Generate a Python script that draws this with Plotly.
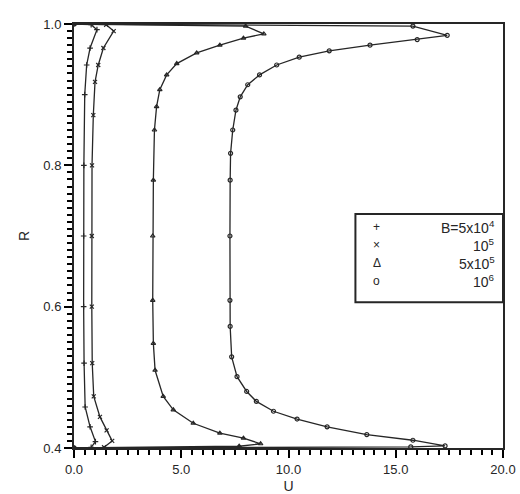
import plotly.graph_objects as go

# Series: radial coordinate R and velocity U for each B
labels = ["B=5x10<sup>4</sup>", "10<sup>5</sup>", "5x10<sup>5</sup>", "10<sup>6</sup>"]
legend_glyphs = ["+", "×", "Δ", "o"]
symbols = ["cross-thin-open", "x-thin-open", "triangle-up-open", "circle-open"]

R1 = [0.400, 0.401, 0.409, 0.430, 0.458, 0.52, 0.60, 0.70, 0.80, 0.90, 0.942, 0.966, 0.992, 0.999, 1.000]
U1 = [0.0, 0.8, 1.0, 0.75, 0.52, 0.47, 0.45, 0.45, 0.46, 0.50, 0.59, 0.75, 1.07, 0.8, 0.0]

R2 = [0.400, 0.401, 0.410, 0.425, 0.444, 0.473, 0.52, 0.60, 0.70, 0.80, 0.871, 0.918, 0.942, 0.966, 0.990, 0.999, 1.000]
U2 = [0.0, 1.4, 1.78, 1.52, 1.21, 0.92, 0.85, 0.83, 0.83, 0.84, 0.90, 0.98, 1.13, 1.37, 1.85, 1.5, 0.0]

R3 = [0.400, 0.4025, 0.406, 0.414, 0.421, 0.435, 0.454, 0.473, 0.510, 0.548, 0.609, 0.70, 0.779,
      0.850, 0.883, 0.907, 0.928, 0.944, 0.959, 0.970, 0.980, 0.986, 0.997, 1.000]
U3 = [0.0, 7.7, 8.7, 7.9, 6.8, 5.56, 4.63, 4.16, 3.78, 3.70, 3.67, 3.67, 3.70,
      3.75, 3.85, 4.0, 4.32, 4.79, 5.72, 6.8, 7.9, 8.85, 8.0, 0.0]

R4 = [0.400, 0.4015, 0.403, 0.411, 0.419, 0.430, 0.441, 0.452, 0.466, 0.480, 0.501, 0.529, 0.572,
      0.609, 0.70, 0.779, 0.817, 0.850, 0.878, 0.897, 0.914, 0.928, 0.942, 0.953, 0.962,
      0.970, 0.978, 0.984, 0.997, 1.000]
U4 = [0.0, 15.7, 17.3, 15.8, 13.65, 11.8, 10.4, 9.3, 8.5, 8.05, 7.6, 7.35, 7.28,
      7.27, 7.27, 7.28, 7.3, 7.4, 7.55, 7.75, 8.1, 8.65, 9.45, 10.5, 11.9,
      13.8, 16.0, 17.4, 15.8, 0.0]

x_ticks = [0, 5, 10, 15, 20]
y_ticks = [0.4, 0.6, 0.8, 1.0]
x_minor_step = 0.5
y_minor_step = 0.01

series = [(U1, R1), (U2, R2), (U3, R3), (U4, R4)]

ink = "#262626"
tick_ink = "#000000"
font = "Liberation Sans, Arial, sans-serif"

fig = go.Figure()
for (U, R), lab, sym in zip(series, labels, symbols):
    fig.add_trace(go.Scatter(
        x=U, y=R, mode="lines+markers", name=lab, showlegend=False,
        line=dict(color=ink, width=1.3),
        marker=dict(symbol=sym, size=4, color=ink, line=dict(color=ink, width=1.2)),
    ))

# Legend box drawn as a framed panel with right-aligned labels
box = dict(x0=0.656, x1=1.0, y0=0.344, y1=0.552)
fig.add_shape(type="rect", xref="paper", yref="paper", **box,
              line=dict(color=ink, width=2), fillcolor="white", layer="above")
row_y = [0.521, 0.479, 0.436, 0.394]
for glyph, lab, yy in zip(legend_glyphs, labels, row_y):
    fig.add_annotation(xref="paper", yref="paper", x=0.706, y=yy, text=glyph,
                       showarrow=False, xanchor="center", yanchor="middle",
                       font=dict(size=12, color=ink))
    fig.add_annotation(xref="paper", yref="paper", x=0.985, y=yy, text=lab,
                       showarrow=False, xanchor="right", yanchor="middle",
                       font=dict(size=14, color=ink))

xr = [x_ticks[0], x_ticks[-1]]
yr = [y_ticks[0], y_ticks[-1]]

fig.update_layout(
    width=520, height=494,
    margin=dict(l=74, r=17, t=24, b=46),
    paper_bgcolor="white", plot_bgcolor="white",
    font=dict(family=font, size=13, color=ink),
    showlegend=False,
    xaxis=dict(
        range=xr, tick0=x_ticks[0], dtick=x_ticks[1] - x_ticks[0],
        tickformat=".1f", automargin=False,
        showgrid=False, zeroline=False,
        showline=True, linecolor=ink, linewidth=2, mirror=True,
        ticks="outside", ticklen=8, tickwidth=1.6, tickcolor=tick_ink,
        minor=dict(ticks="outside", ticklen=5, tickwidth=1.5, tickcolor=tick_ink,
                   tick0=0, dtick=x_minor_step, showgrid=False),
        title=dict(text="U", standoff=8, font=dict(size=14)),
    ),
    yaxis=dict(
        range=yr, tick0=y_ticks[0], dtick=y_ticks[1] - y_ticks[0],
        tickformat=".1f", automargin=False,
        showgrid=False, zeroline=False,
        showline=True, linecolor=ink, linewidth=2, mirror=True,
        ticks="outside", ticklen=8, tickwidth=1.6, tickcolor=tick_ink,
        minor=dict(ticks="outside", ticklen=5, tickwidth=1.5, tickcolor=tick_ink,
                   dtick=y_minor_step, showgrid=False),
        title=dict(text="R", standoff=10, font=dict(size=14)),
    ),
)

fig.write_html("out.html")
